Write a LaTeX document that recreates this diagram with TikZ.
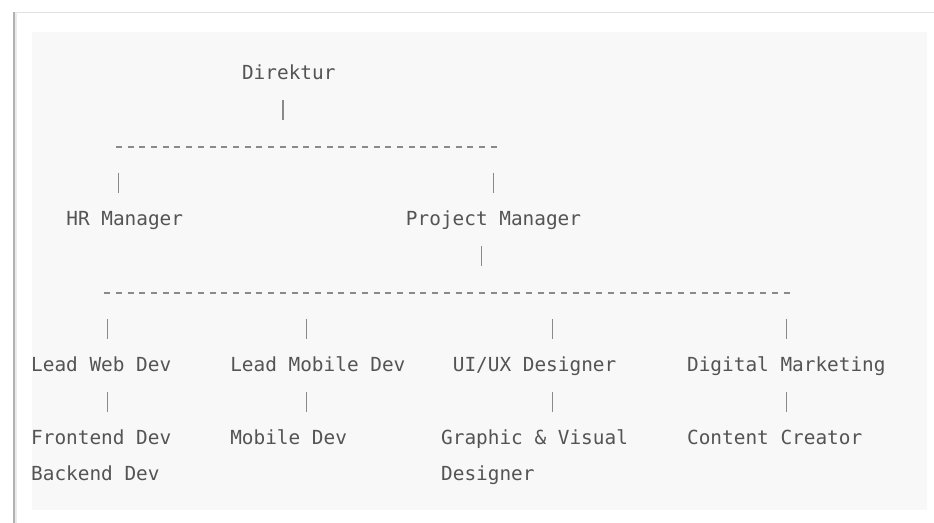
\documentclass[tikz,border=0pt]{standalone}
\usepackage{fontspec}
\newfontfamily\orgfont{DejaVu Sans Mono}
\definecolor{inkgray}{HTML}{545454}
\definecolor{bargray}{HTML}{8A8A8A}
\definecolor{panel}{HTML}{F8F8F8}
\tikzset{
  role/.style={anchor=base west, inner sep=0pt, text=inkgray, align=left,
    font=\orgfont\fontsize{19.4}{36.5}\selectfont},
  bar/.style={draw=bargray, line width=1.2pt},
  dashrow/.style={draw=bargray, line width=1.3pt, dash pattern=on 6pt off 5.72pt},
}
\begin{document}
\begin{tikzpicture}[x=1pt,y=-1pt]
  % frame
  \fill[white] (0,0) rectangle (934,523);
  \fill[panel] (32,32) rectangle (927,510);
  \draw[black!12, line width=1pt] (13,12.5) -- (934,12.5);
  \fill[black!30] (13,12) rectangle (15.5,523);
  \fill[black!8] (15.5,12) rectangle (17.5,523);
  % roles
  \node[role] (dir) at (242.0,79.5) {Direktur};
  \node[role] (hr) at (66.2,225.5) {HR Manager};
  \node[role] (pm) at (406.0,225.5) {Project Manager};
  \node[role] (web) at (31,371.5) {Lead Web Dev};
  \node[role] (mob) at (230.2,371.5) {Lead Mobile Dev};
  \node[role] (uiux) at (452.9,371.5) {UI/UX Designer};
  \node[role] (mkt) at (687.3,371.5) {Digital Marketing};
  \node[role] (fe) at (31,444.5) {Frontend Dev};
  \node[role] (be) at (31,481) {Backend Dev};
  \node[role] (mobdev) at (230.2,444.5) {Mobile Dev};
  \node[role] (gfx) at (441.2,481) {Graphic \& Visual\\Designer}; % base = last line
  \node[role] (content) at (687.3,444.5) {Content Creator};
  % bars
  \foreach \x/\y [count=\i] in {283.1/110, 118.9/183, 493.8/183, 482.1/256,
      107.2/329, 306.6/329, 552.5/329, 786.9/329,
      107.2/402, 306.6/402, 552.5/402, 786.9/402} {
    \coordinate (bt\i) at (\x,\y-10);
    \coordinate (bb\i) at (\x,\y+10);
    \draw[bar] (bt\i) -- (bb\i);
  }
  % dashed rails
  \coordinate (railA) at (115.9,147);
  \coordinate (railB) at (496.9,147);
  \coordinate (railC) at (104.2,293);
  \coordinate (railD) at (790.0,293);
  \draw[dashrow] (railA) -- (railB);
  \draw[dashrow] (railC) -- (railD);
\end{tikzpicture}
\end{document}
